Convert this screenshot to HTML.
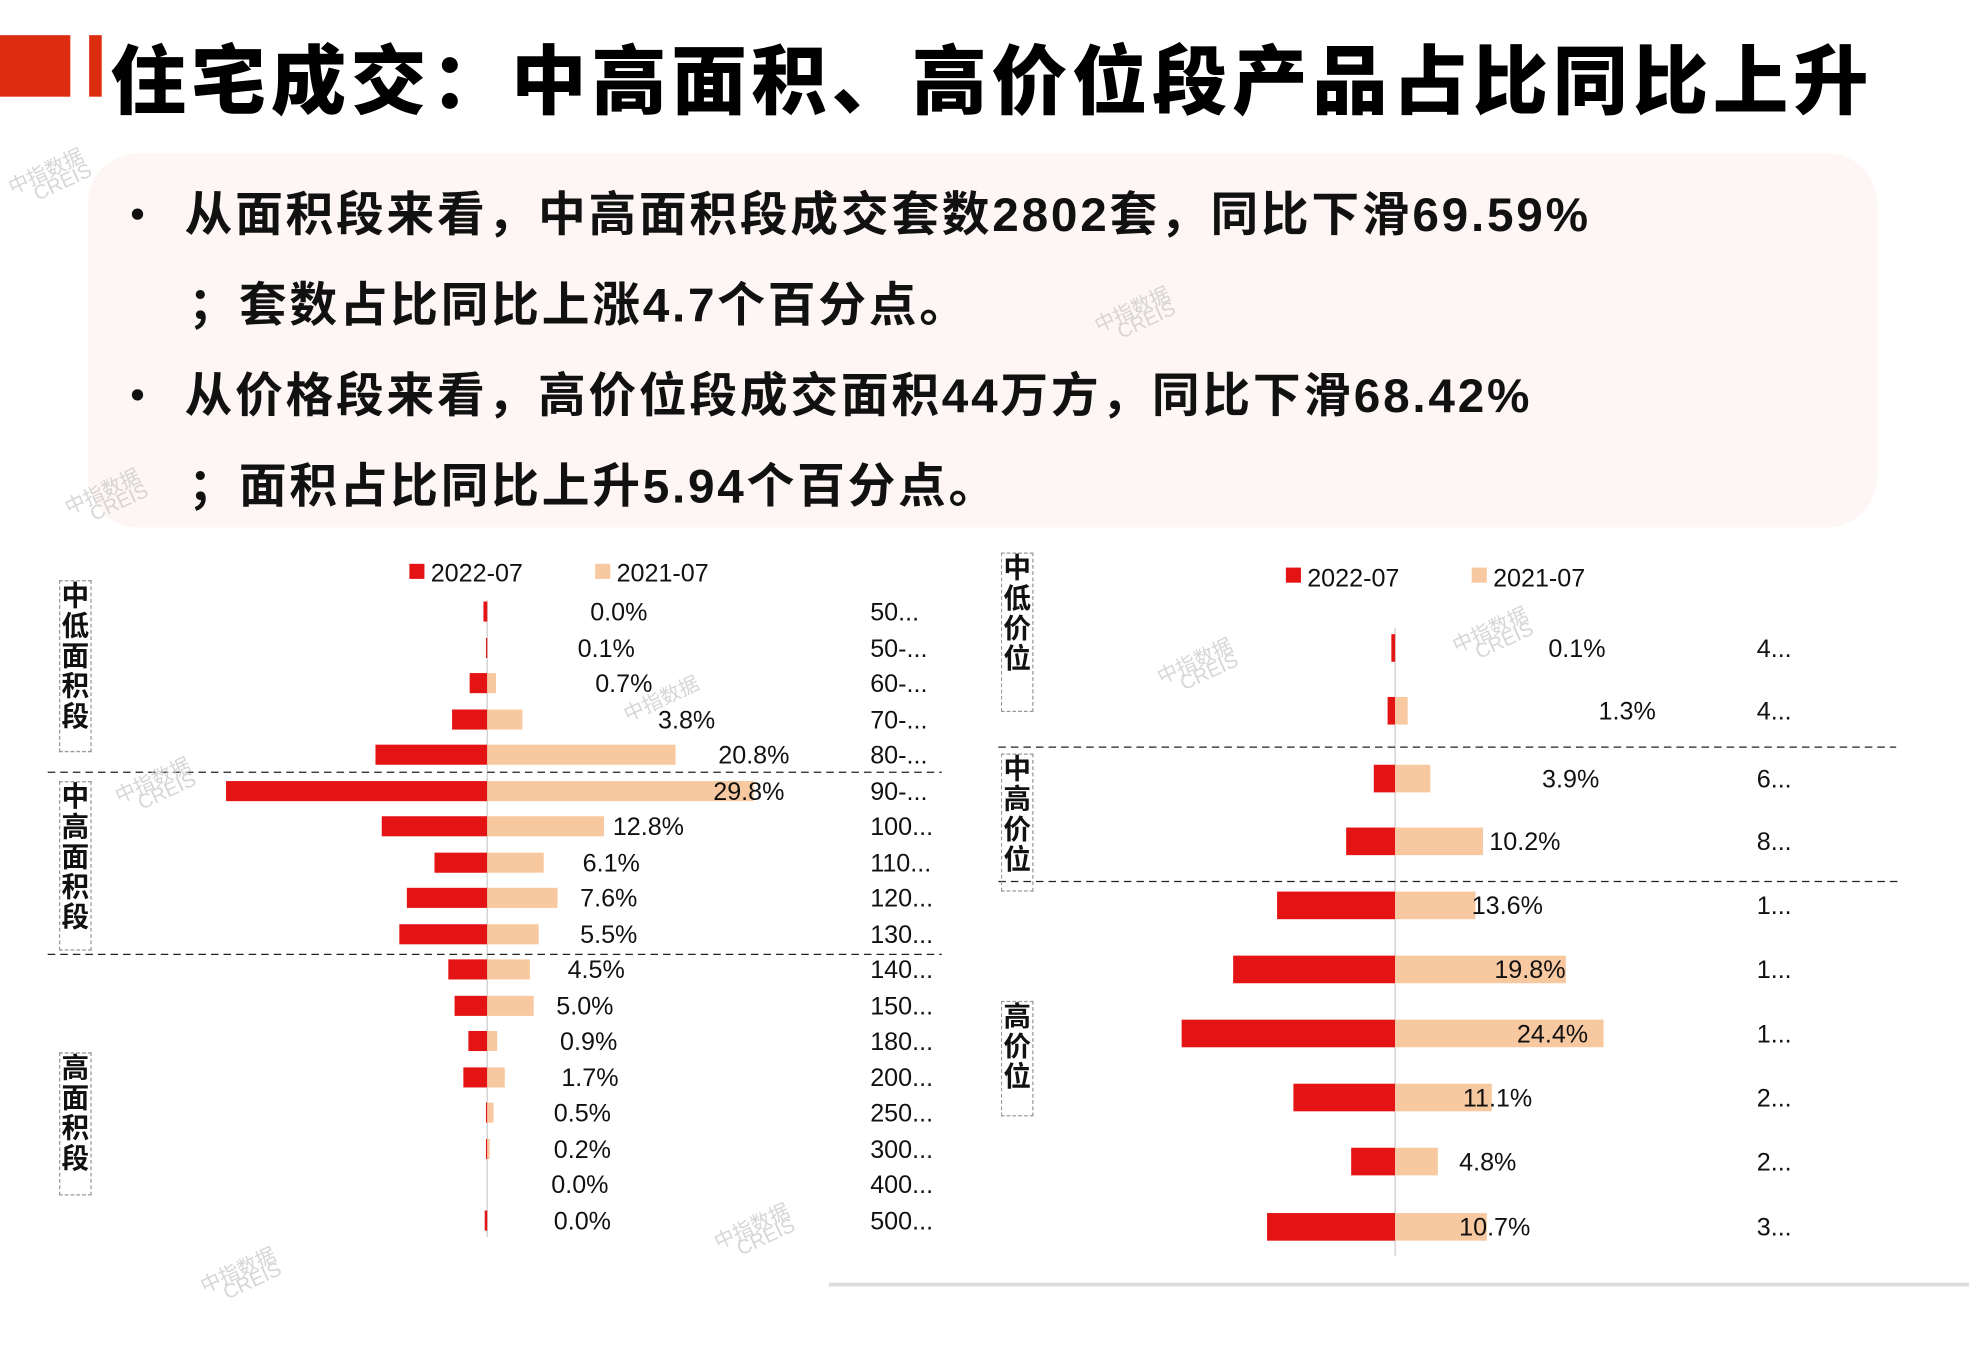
<!DOCTYPE html>
<html><head><meta charset="utf-8"><style>
html,body{margin:0;padding:0;background:#fff;overflow:hidden}
#w{width:1568px;height:1075px;position:relative;transform:scale(1.25574);transform-origin:0 0;font-family:"Liberation Sans","Noto Sans CJK SC",sans-serif}
.a{position:absolute;white-space:nowrap}
.b{font-weight:bold;font-size:38px;color:#111;letter-spacing:2.2px}
.d{position:absolute;width:9px;height:9px;border-radius:50%;background:#111}
.v{position:absolute;border:1.5px dashed #999;font-weight:bold;font-size:22px;line-height:24px;width:24px;text-align:center;color:#111}
</style></head><body><div id="w">
<div class="a" style="left:0;top:28px;width:56px;height:49px;background:#dd2d10"></div>
<div class="a" style="left:71px;top:28px;width:10px;height:49px;background:#dd2d10"></div>
<div class="a" style="left:88px;top:17px;font-size:60px;font-weight:900;color:#000;letter-spacing:3.8px">住宅成交：中高面积、高价位段产品占比同比上升</div>
<div class="a" style="left:70px;top:122px;width:1425px;height:298px;background:#fdf6f5;border-radius:40px"></div>
<div class="d" style="left:105px;top:166px"></div><div class="a b" style="left:147px;top:140px">从面积段来看，中高面积段成交套数2802套，同比下滑69.59%</div>
<div class="a b" style="left:150px;top:212px">；套数占比同比上涨4.7个百分点。</div>
<div class="d" style="left:105px;top:310px"></div><div class="a b" style="left:147px;top:284px">从价格段来看，高价位段成交面积44万方，同比下滑68.42%</div>
<div class="a b" style="left:150px;top:356px">；面积占比同比上升5.94个百分点。</div>
<svg class="a" style="left:0;top:0" width="1568" height="1075">
<g font-family="Liberation Sans,Noto Sans CJK SC,sans-serif" font-size="20" fill="#111">
<rect x="326" y="449" width="12" height="12" fill="#e41414"/><text x="343" y="463">2022-07</text>
<rect x="474" y="449" width="12" height="12" fill="#f8c9a0"/><text x="491" y="463">2021-07</text>
<line x1="388" y1="478" x2="388" y2="985" stroke="#ccc"/>
<line x1="38" y1="615" x2="750" y2="615" stroke="#222" stroke-dasharray="6,4"/>
<line x1="38" y1="760" x2="750" y2="760" stroke="#222" stroke-dasharray="6,4"/>
<g id="L"></g>
<rect x="1024" y="452" width="12" height="12" fill="#e41414"/><text x="1041" y="467">2022-07</text>
<rect x="1172" y="452" width="12" height="12" fill="#f8c9a0"/><text x="1189" y="467">2021-07</text>
<line x1="1111" y1="500" x2="1111" y2="1000" stroke="#ccc"/>
<line x1="795" y1="595" x2="1510" y2="595" stroke="#222" stroke-dasharray="6,4"/>
<line x1="795" y1="702" x2="1515" y2="702" stroke="#222" stroke-dasharray="6,4"/>
<line x1="660" y1="1023" x2="1568" y2="1023" stroke="#ddd" stroke-width="3"/>
<g id="R"></g>
<g fill="#ccc" font-size="16" opacity="0.8">
<text transform="translate(10,155) rotate(-25)">中指数据</text><text transform="translate(30,160) rotate(-25)">CREIS</text>
<text transform="translate(55,410) rotate(-25)">中指数据</text><text transform="translate(75,415) rotate(-25)">CREIS</text>
<text transform="translate(875,265) rotate(-25)">中指数据</text><text transform="translate(893,270) rotate(-25)">CREIS</text>
<text transform="translate(500,575) rotate(-25)">中指数据</text>
<text transform="translate(925,545) rotate(-25)">中指数据</text><text transform="translate(943,550) rotate(-25)">CREIS</text>
<text transform="translate(1160,520) rotate(-25)">中指数据</text><text transform="translate(1178,525) rotate(-25)">CREIS</text>
<text transform="translate(95,640) rotate(-25)">中指数据</text><text transform="translate(113,645) rotate(-25)">CREIS</text>
<text transform="translate(572,995) rotate(-25)">中指数据</text><text transform="translate(590,1000) rotate(-25)">CREIS</text>
<text transform="translate(163,1030) rotate(-25)">中指数据</text><text transform="translate(181,1035) rotate(-25)">CREIS</text>
</g>
</g></svg>
<div class="v" style="left:47px;top:462px;height:135px">中低面积段</div>
<div class="v" style="left:47px;top:622px;height:133px">中高面积段</div>
<div class="v" style="left:47px;top:838px;height:112px">高面积段</div>
<div class="v" style="left:797px;top:440px;height:125px">中低价位</div>
<div class="v" style="left:797px;top:600px;height:108px">中高价位</div>
<div class="v" style="left:797px;top:797px;height:90px">高价位</div>
<script>
var L=[[487,3,0,'0.0%',470,'50...'],[516,1,0,'0.1%',460,'50-...'],[544,14,7,'0.7%',474,'60-...'],[573,28,28,'3.8%',524,'70-...'],[601,89,150,'20.8%',572,'80-...'],[630,208,212,'29.8%',568,'90-...'],[658,84,93,'12.8%',488,'100...'],[687,42,45,'6.1%',464,'110...'],[715,64,56,'7.6%',462,'120...'],[744,70,41,'5.5%',462,'130...'],[772,31,34,'4.5%',452,'140...'],[801,26,37,'5.0%',443,'150...'],[829,15,8,'0.9%',446,'180...'],[858,19,14,'1.7%',447,'200...'],[886,1,5,'0.5%',441,'250...'],[915,1,2,'0.2%',441,'300...'],[943,0,0,'0.0%',439,'400...'],[972,2,0,'0.0%',441,'500...']];
var s='';L.forEach(function(r){var y=r[0];s+='<rect x="'+(388-r[1])+'" y="'+(y-8)+'" width="'+r[1]+'" height="16" fill="#e41414"/><rect x="388" y="'+(y-8)+'" width="'+r[2]+'" height="16" fill="#f8c9a0"/><text x="'+r[4]+'" y="'+(y+7)+'">'+r[3]+'</text><text x="693" y="'+(y+7)+'">'+r[5]+'</text>';});
document.getElementById('L').innerHTML=s;
var R=[[516,3,0,'0.1%',1233,'4...'],[566,6,10,'1.3%',1273,'4...'],[620,17,28,'3.9%',1228,'6...'],[670,39,70,'10.2%',1186,'8...'],[721,94,64,'13.6%',1172,'1...'],[772,129,136,'19.8%',1190,'1...'],[823,170,166,'24.4%',1208,'1...'],[874,81,77,'11.1%',1165,'2...'],[925,35,34,'4.8%',1162,'2...'],[977,102,73,'10.7%',1162,'3...']];
s='';R.forEach(function(r){var y=r[0];s+='<rect x="'+(1111-r[1])+'" y="'+(y-11)+'" width="'+r[1]+'" height="22" fill="#e41414"/><rect x="1111" y="'+(y-11)+'" width="'+r[2]+'" height="22" fill="#f8c9a0"/><text x="'+r[4]+'" y="'+(y+7)+'">'+r[3]+'</text><text x="1399" y="'+(y+7)+'">'+r[5]+'</text>';});
document.getElementById('R').innerHTML=s;
</script>
</div></body></html>
